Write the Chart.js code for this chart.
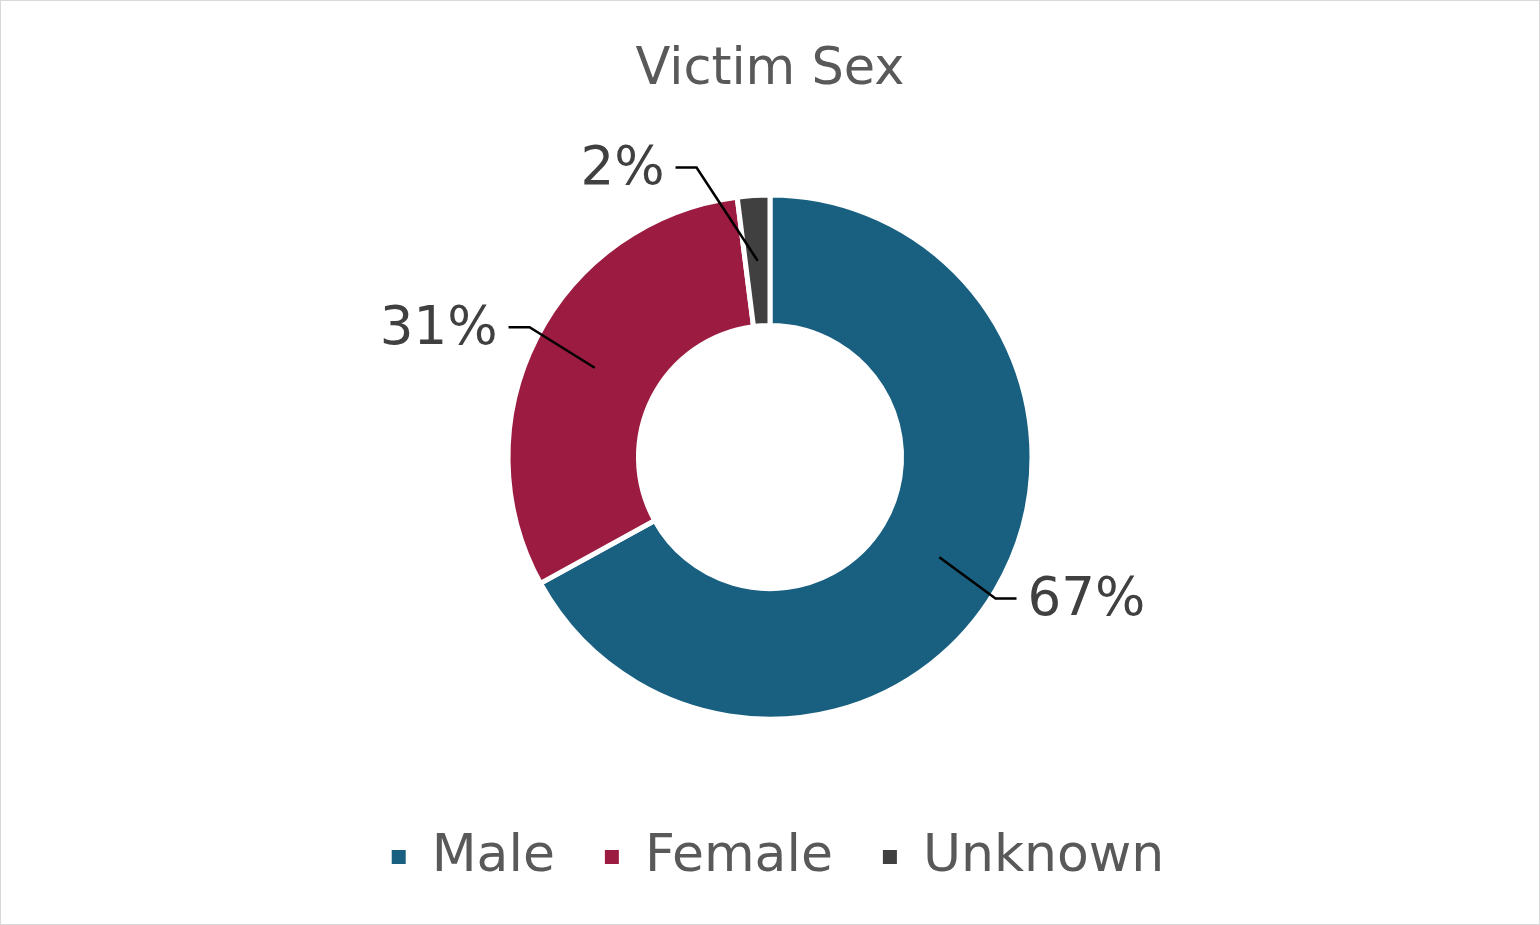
<!DOCTYPE html>
<html>
<head>
<meta charset="utf-8">
<script src="https://cdn.jsdelivr.net/npm/chart.js@4/dist/chart.umd.min.js"></script>
<style>
  html, body { margin: 0; padding: 0; background: #ffffff; }
  #frame { width: 1540px; height: 925px; box-sizing: border-box; border: 1px solid #d9d9d9; background: #ffffff; }
  canvas { display: block; }
</style>
</head>
<body>
<div id="frame"><canvas id="c" width="1538" height="923" style="width:1538px;height:923px"></canvas></div>
<script>
const chartTitle = 'Victim Sex';
const categories = ['Male', 'Female', 'Unknown'];
const percentValues = [67, 31, 2];
const sliceColors = ['#185f80', '#9c1c41', '#404040'];

const FONT = '"DejaVu Sans", Verdana, sans-serif';

// callout elbow offsets relative to each arc's outer midpoint (label placement style)
const calloutOffsets = [
  { dx: 0, dy: 8, side: 1 },
  { dx: -7, dy: -11, side: -1 },
  { dx: -57, dy: -28, side: -1 }
];

const calloutPlugin = {
  id: 'callouts',
  afterLayout(chart) {
    // nudge legend slightly right, as in the reference layout
    if (chart.legend) { chart.legend.left += 8; chart.legend.right += 8; }
  },
  afterDatasetsDraw(chart) {
    const ctx = chart.ctx;
    const meta = chart.getDatasetMeta(0);
    const data = chart.data.datasets[0].data;
    ctx.save();
    meta.data.forEach((arc, i) => {
      const p = arc.getProps(['x', 'y', 'startAngle', 'endAngle', 'innerRadius', 'outerRadius'], true);
      const mid = (p.startAngle + p.endAngle) / 2;
      const cx = Math.cos(mid), cy = Math.sin(mid);
      const rMid = (p.innerRadius + p.outerRadius) / 2;
      const sx = p.x + cx * rMid, sy = p.y + cy * rMid;
      const o = calloutOffsets[i];
      const ex = p.x + cx * p.outerRadius + o.dx;
      const ey = p.y + cy * p.outerRadius + o.dy;
      const hx = ex + o.side * 21;
      ctx.strokeStyle = '#000000';
      ctx.lineWidth = 2.5;
      ctx.beginPath();
      ctx.moveTo(sx, sy);
      ctx.lineTo(ex, ey);
      ctx.lineTo(hx, ey);
      ctx.stroke();
      ctx.fillStyle = '#404040';
      ctx.font = '53px ' + FONT;
      ctx.textBaseline = 'middle';
      ctx.textAlign = o.side > 0 ? 'left' : 'right';
      ctx.fillText(data[i] + '%', hx + o.side * 11, ey + 3);
    });
    ctx.restore();
  }
};

new Chart(document.getElementById('c'), {
  type: 'doughnut',
  data: {
    labels: categories,
    datasets: [{
      data: percentValues,
      backgroundColor: sliceColors,
      borderColor: '#ffffff',
      borderWidth: 5,
      radius: 262,
      hoverOffset: 0
    }]
  },
  options: {
    responsive: false,
    devicePixelRatio: 1,
    animation: false,
    cutout: '50.2%',
    layout: { padding: { top: 0, bottom: 31, left: 0, right: 0 } },
    plugins: {
      title: {
        display: true,
        text: chartTitle,
        color: '#595959',
        font: { family: FONT, size: 51, weight: 'normal' },
        padding: { top: 39, bottom: 32 }
      },
      legend: {
        display: true,
        position: 'bottom',
        labels: {
          color: '#595959',
          font: { family: FONT, size: 52 },
          boxWidth: 14,
          boxHeight: 14,
          padding: 50,
          generateLabels(chart) {
            const items = Chart.overrides.doughnut.plugins.legend.labels.generateLabels(chart);
            items.forEach(it => { it.lineWidth = 0; it.strokeStyle = 'rgba(0,0,0,0)'; });
            return items;
          }
        }
      },
      tooltip: { enabled: false }
    }
  },
  plugins: [calloutPlugin]
});
</script>
</body>
</html>
